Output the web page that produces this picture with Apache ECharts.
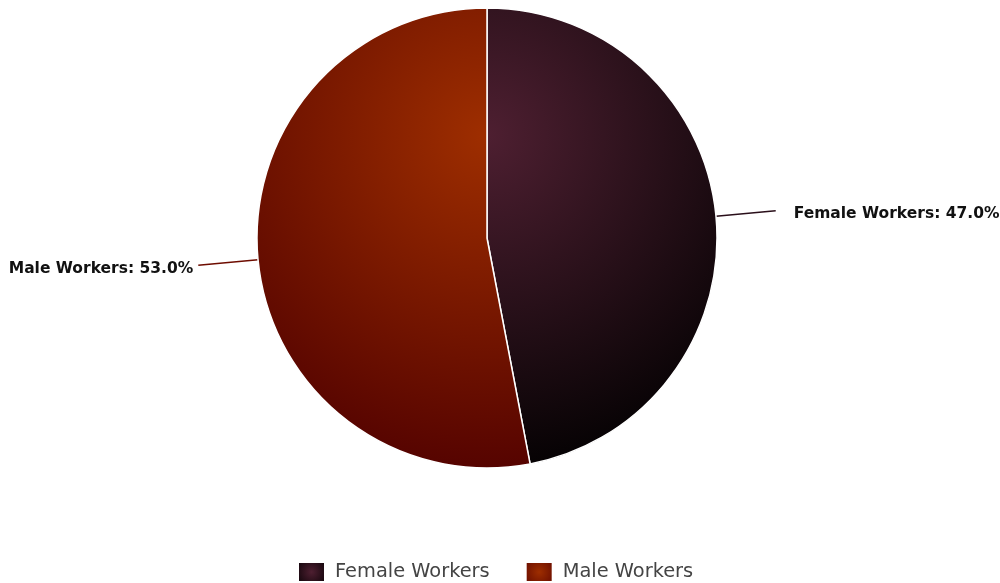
<!DOCTYPE html>
<html>
<head>
<meta charset="utf-8">
<script src="https://cdn.jsdelivr.net/npm/echarts@6/dist/echarts.min.js"></script>
<style>
  html, body { margin: 0; padding: 0; background: #fff; }
  #chart { width: 1000px; height: 583px; }
</style>
</head>
<body>
<div id="chart"></div>
<script>
// Workforce split by gender
const categories = ['Female Workers', 'Male Workers'];
const shares = [47.0, 53.0];

// Shading: highlight colour near the upper centre, darker towards the rim
const highlightColors = ['#4e1f31', '#9e2e00'];
const rimColors = ['#000000', '#500000'];
const lineColors = ['#2a0f1a', '#6e0c00'];
const labelGaps = [18, 5];

const chart = echarts.init(document.getElementById('chart'), null, { renderer: 'canvas' });

function sliceGradient(i) {
  return new echarts.graphic.RadialGradient(487, 135, 360, [
    { offset: 0, color: highlightColors[i] },
    { offset: 1, color: rimColors[i] }
  ], true);
}
function iconGradient(i) {
  return new echarts.graphic.RadialGradient(0.5, 0.5, 0.75, [
    { offset: 0, color: highlightColors[i] },
    { offset: 1, color: i === 0 ? '#12050b' : '#6a0d00' }
  ]);
}

const option = {
  backgroundColor: '#ffffff',
  animation: false,
  legend: {
    left: 292,
    top: 556,
    itemWidth: 27,
    itemHeight: 20,
    itemGap: 35,
    icon: 'rect',
    selectedMode: false,
    textStyle: {
      fontFamily: 'DejaVu Sans',
      fontSize: 19.4,
      color: '#444444',
      padding: [0, 0, 0, 5]
    },
    data: categories.map((name, i) => ({
      name: name,
      itemStyle: { color: iconGradient(i) }
    }))
  },
  series: [{
    type: 'pie',
    center: [487, 238],
    radius: 230,
    startAngle: 90,
    clockwise: true,
    avoidLabelOverlap: false,
    emphasis: { disabled: true },
    itemStyle: { borderColor: '#ffffff', borderWidth: 1.5 },
    label: {
      show: true,
      position: 'outside',
      formatter: p => '{t|' + p.name + ': ' + p.value.toFixed(1) + '%}',
      rich: {
        t: {
          fontFamily: 'DejaVu Sans',
          fontWeight: 'bold',
          fontSize: 15.5,
          color: '#111111',
          padding: [7, 0, 0, 0]
        }
      }
    },
    labelLine: {
      show: true,
      length: 60,
      length2: 0,
      smooth: false
    },
    data: categories.map((name, i) => ({
      name: name,
      value: shares[i],
      itemStyle: { color: sliceGradient(i) },
      label: { distanceToLabelLine: labelGaps[i] },
      labelLine: { lineStyle: { color: lineColors[i], width: 1.5 } }
    }))
  }]
};

chart.setOption(option);
</script>
</body>
</html>
